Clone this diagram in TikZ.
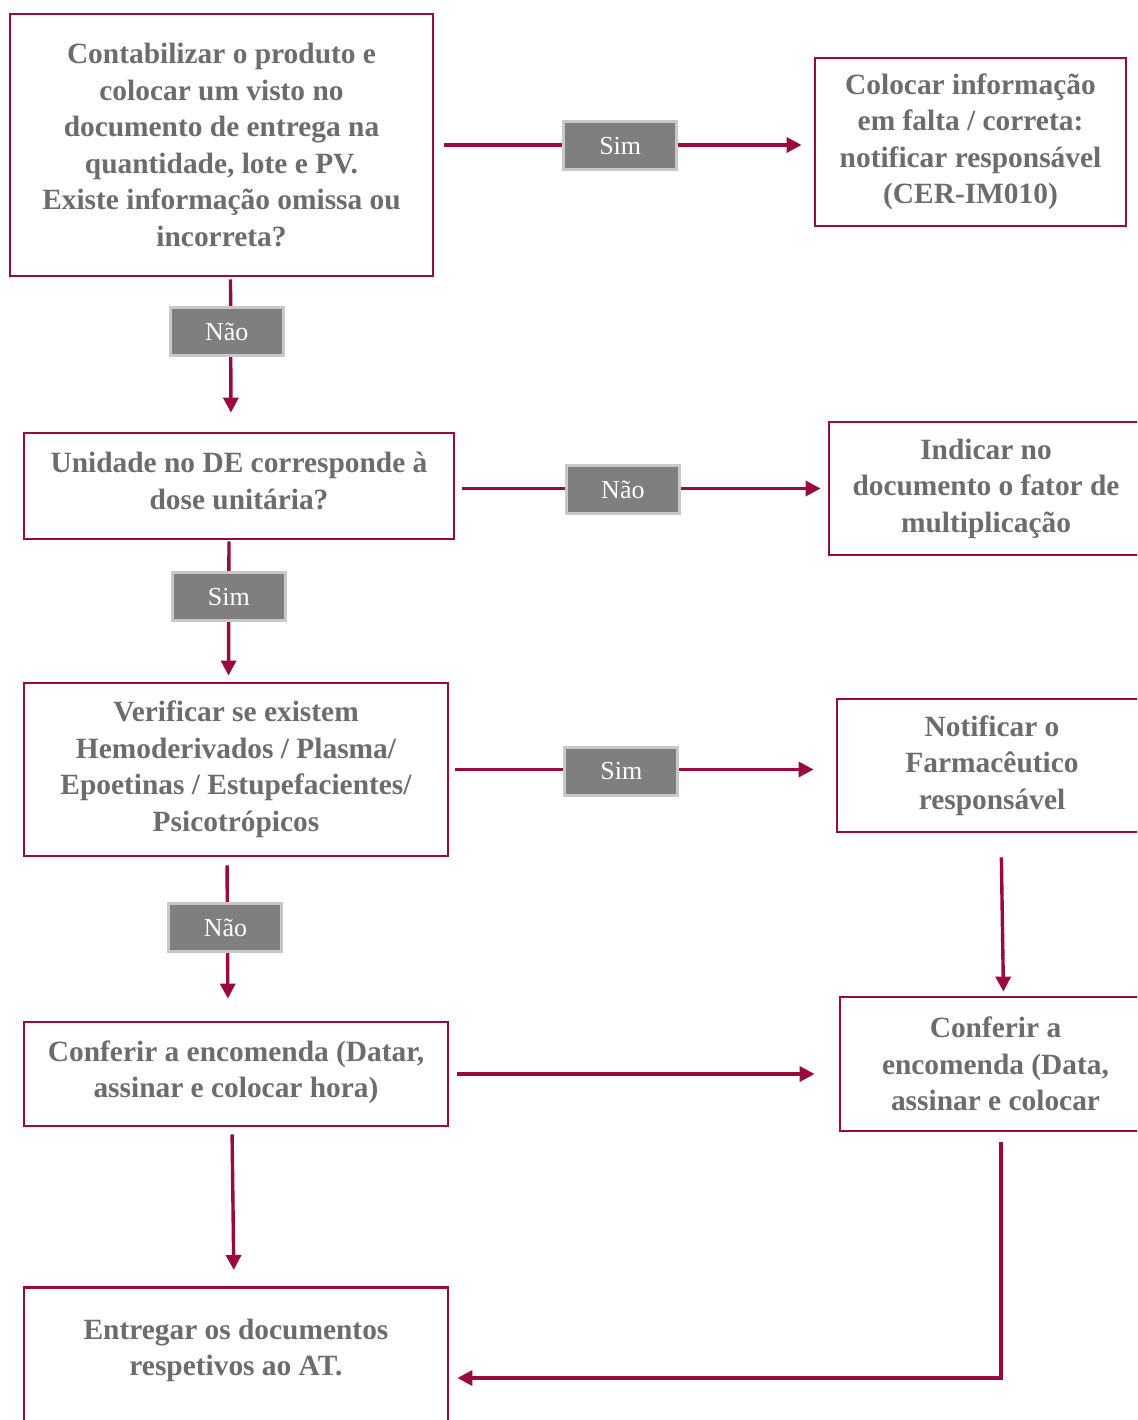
\documentclass[tikz,border=0pt]{standalone}
\usepackage{fontspec}
\setmainfont{Liberation Serif}
\usetikzlibrary{arrows.meta}

\definecolor{vinho}{RGB}{155,10,62}
\definecolor{cinza}{RGB}{110,107,107}
\definecolor{rotulo}{RGB}{127,127,127}
\definecolor{bordarot}{RGB}{200,200,200}

\tikzset{
  caixa/.style={draw=vinho,line width=2.8pt,align=center,text=cinza,
    font=\bfseries\fontsize{29.4}{36.5}\selectfont,inner sep=0pt},
  rot/.style={fill=rotulo,draw=bordarot,line width=3pt,text=white,
    font=\fontsize{26}{30}\selectfont,minimum width=113pt,minimum height=48pt,inner sep=0pt},
  seta/.style={draw=vinho,line width=3.4pt,-{Triangle[length=15pt,width=15pt]}}
}

\begin{document}
\begin{tikzpicture}[x=1pt,y=-1pt]
	\clip (0,0) rectangle (1137,1420);

	% caixas da esquerda
	\node[caixa,minimum width=423pt,minimum height=262pt] (contab) at (221.5,145)
		{Contabilizar o produto e\\colocar um visto no\\documento de entrega na\\quantidade, lote e PV.\\Existe informação omissa ou\\incorreta?};
	\node[caixa,minimum width=430pt,minimum height=106pt,text depth=10pt] (unidade) at (239,486)
		{Unidade no DE corresponde à\\dose unitária?};
	\node[caixa,minimum width=424pt,minimum height=173pt] (verificar) at (236,769.5)
		{Verificar se existem\\Hemoderivados / Plasma/\\Epoetinas / Estupefacientes/\\Psicotrópicos};
	\node[caixa,minimum width=424pt,minimum height=104pt,text depth=10pt] (conferir) at (236,1074)
		{Conferir a encomenda (Datar,\\assinar e colocar hora)};
	\node[caixa,minimum width=424pt,anchor=north,text height=88.5pt,text depth=150pt] (entregar) at (236,1286)
		{Entregar os documentos\\respetivos ao AT.};

	% caixas da direita
	\node[caixa,minimum width=311pt,minimum height=168pt] (colocar) at (970.5,142)
		{Colocar informação\\em falta / correta:\\notificar responsável\\(CER-IM010)};
	\node[caixa,minimum width=314pt,minimum height=133pt] (indicar) at (986,488.5)
		{Indicar no\\documento o fator de\\multiplicação};
	\node[caixa,minimum width=310pt,minimum height=133pt] (notificar) at (992,765.5)
		{Notificar o\\Farmacêutico\\responsável};
	\node[caixa,minimum width=311pt,minimum height=134pt] (conferirb) at (995.5,1064)
		{Conferir a\\encomenda (Data,\\assinar e colocar};

	% setas
	\draw[seta,shorten <=10pt,shorten >=12pt] (contab.east) -- (contab.east -| colocar.west)
		node[rot,pos=0.49,yshift=-1pt] (sim1) {Sim};
	\draw[seta,shorten <=2pt,shorten >=19pt] ([xshift=9pt]contab.south) -- ([xshift=-8pt]unidade.north)
		node[rot,pos=0.35,xshift=-4pt] (nao1) {Não};
	\draw[seta,shorten <=7pt,shorten >=7pt] (indicar.west -| unidade.east) -- (indicar.west)
		node[rot,pos=0.45,yshift=-1pt] (nao2) {Não};
	\draw[seta,shorten <=1pt,shorten >=6pt] ([xshift=-10pt]unidade.south) -- ([xshift=-7.5pt]verificar.north)
		node[rot,pos=0.40] (sim2) {Sim};
	\draw[seta,shorten <=6pt,shorten >=22pt] (verificar.east) -- (verificar.east -| notificar.west)
		node[rot,pos=0.445,yshift=-2pt] (sim3) {Sim};
	\draw[seta,shorten <=8pt,shorten >=22pt] ([xshift=-9pt]verificar.south) -- ([xshift=-8pt]conferir.north)
		node[rot,pos=0.43,xshift=-2pt] (nao3) {Não};
	\draw[seta,shorten <=24pt,shorten >=4pt] ([xshift=9pt]notificar.south) -- ([xshift=8pt]conferirb.north);
	\draw[seta,shorten <=8pt,shorten >=24pt] (conferir.east) -- (conferir.east -| conferirb.west);
	\draw[seta,shorten <=7pt,shorten >=16pt] ([xshift=-4pt]conferir.south) -- ([xshift=-2pt]entregar.north);
	\draw[seta,shorten <=10pt,shorten >=8pt] ([xshift=5.5pt]conferirb.south) |- ([yshift=-92pt]entregar.north east);
\end{tikzpicture}
\end{document}
